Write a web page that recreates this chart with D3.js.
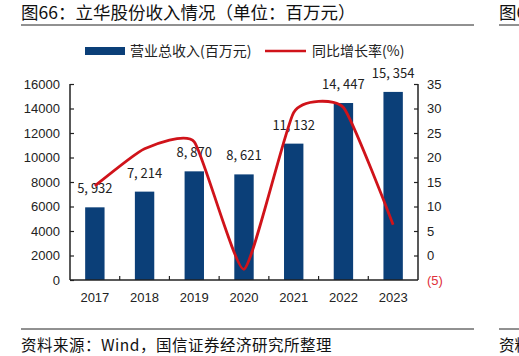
<!DOCTYPE html>
<html><head><meta charset="utf-8">
<script src="https://cdn.jsdelivr.net/npm/d3@7/dist/d3.min.js"></script>
<style>
body{margin:0;background:#fff;}
text{font-family:"Liberation Sans",Arial,sans-serif;}
.cjk{font-family:"Noto Sans CJK SC","Noto Sans",sans-serif;}
</style></head>
<body>
<svg id="c" width="519" height="356"></svg>
<script>
const years = ["2017","2018","2019","2020","2021","2022","2023"];
const revenue = [5932, 7214, 8870, 8621, 11132, 14447, 15354];
const growth = [14.2, 21.8, 23.2, -2.8, 29.2, 30.2, 6.3];
const leftTicks = [0,2000,4000,6000,8000,10000,12000,14000,16000];
const rightTicks = [-5,0,5,10,15,20,25,30,35];

const svg = d3.select("#c");
const L = 70, R = 418, T = 84, B = 280;
const x = d3.scaleBand().domain(years).range([L, R]).paddingInner(0.61).paddingOuter(0.305);
const xb = d3.scaleBand().domain(years).range([L, R]);
const yL = d3.scaleLinear().domain([0,16000]).range([B,T]);
const yR = d3.scaleLinear().domain([-5,35]).range([B,T]);

// title
svg.append("text").attr("class","cjk").attr("x",21).attr("y",19).attr("font-size",17.5).attr("fill","#111")
  .text("图66：立华股份收入情况（单位：百万元）");
svg.append("text").attr("class","cjk").attr("x",499).attr("y",19).attr("font-size",17.5).attr("fill","#111").text("图6");
svg.append("line").attr("x1",21).attr("x2",474).attr("y1",25).attr("y2",25).attr("stroke","#222").attr("stroke-width",1);
svg.append("line").attr("x1",499).attr("x2",519).attr("y1",25).attr("y2",25).attr("stroke","#222").attr("stroke-width",1);
svg.append("line").attr("x1",21).attr("x2",474).attr("y1",329).attr("y2",329).attr("stroke","#222").attr("stroke-width",1);
svg.append("line").attr("x1",499).attr("x2",519).attr("y1",329).attr("y2",329).attr("stroke","#222").attr("stroke-width",1);
svg.append("text").attr("class","cjk").attr("x",21).attr("y",351).attr("font-size",15.5).attr("letter-spacing",0.5).attr("fill","#111")
  .text("资料来源：Wind，国信证券经济研究所整理");
svg.append("text").attr("class","cjk").attr("x",499).attr("y",351).attr("font-size",15.5).attr("fill","#111").text("资料");

// legend
svg.append("rect").attr("x",85).attr("y",47).attr("width",40).attr("height",8).attr("fill","#0b3f78");
svg.append("text").attr("class","cjk").attr("x",130).attr("y",56).attr("font-size",14).attr("fill","#222").text("营业总收入(百万元)");
svg.append("line").attr("x1",265).attr("x2",306).attr("y1",51).attr("y2",51).attr("stroke","#d0131a").attr("stroke-width",2.5);
svg.append("text").attr("class","cjk").attr("x",312).attr("y",56).attr("font-size",14).attr("fill","#222").text("同比增长率(%)");

// bars
svg.selectAll("rect.bar").data(revenue).enter().append("rect").attr("class","bar")
  .attr("x",(d,i)=>x(years[i])).attr("width",x.bandwidth())
  .attr("y",d=>yL(d)).attr("height",d=>B-yL(d)).attr("fill","#0b3f78");

// bar labels
const fmt = d3.format(",");
svg.selectAll("text.bl").data(revenue).enter().append("text").attr("class","bl cjk")
  .attr("x",(d,i)=>x(years[i])+x.bandwidth()/2).attr("y",d=>yL(d)-14)
  .attr("text-anchor","middle").attr("font-size",13).attr("fill","#222")
  .text(d=>fmt(d).replace(",",", "));

// line
const line = d3.line().x((d,i)=>xb(years[i])+xb.bandwidth()/2).y(d=>yR(d)).curve(d3.curveCardinal.tension(0.5));
svg.append("path").datum(growth).attr("d",line).attr("fill","none").attr("stroke","#d0131a").attr("stroke-width",2.8);

// axes
const axL = d3.axisLeft(yL).tickValues(leftTicks).tickSize(-4).tickPadding(10).tickFormat(d3.format("d"));
const gL = svg.append("g").attr("transform",`translate(${L},0)`).call(axL);
const axR = d3.axisRight(yR).tickValues(rightTicks).tickSize(-4).tickPadding(9)
  .tickFormat(d=>d<0?`(${-d})`:d);
const gR = svg.append("g").attr("transform",`translate(${R},0)`).call(axR);
const axB = d3.axisBottom(xb).tickSize(0).tickPadding(13);
const gB = svg.append("g").attr("transform",`translate(0,${B})`).call(axB);
[gL,gR,gB].forEach(g=>{
  g.select(".domain").attr("stroke","#222").attr("stroke-width",1.5);
  g.selectAll(".tick line").attr("stroke","#222").attr("stroke-width",1.2);
  g.selectAll("text").attr("font-size",13).attr("fill","#222").attr("font-family","Liberation Sans, Arial, sans-serif");
});
gL.select(".domain").attr("d",`M0,${T}V${B}`);
gR.select(".domain").attr("d",`M0,${T}V${B}`);
gR.selectAll(".tick").filter(d=>d<0).select("text").attr("fill","#e0303a");
gR.selectAll(".tick").filter(d=>d<0).select("line").remove();
gB.select(".domain").attr("d",`M${L},0H${R}`);
// category boundary ticks pointing up
svg.selectAll("line.ct").data(years.slice(1)).enter().append("line").attr("class","ct")
  .attr("x1",d=>xb(d)).attr("x2",d=>xb(d)).attr("y1",B).attr("y2",B-4).attr("stroke","#222").attr("stroke-width",1.2);
</script>
</body></html>
